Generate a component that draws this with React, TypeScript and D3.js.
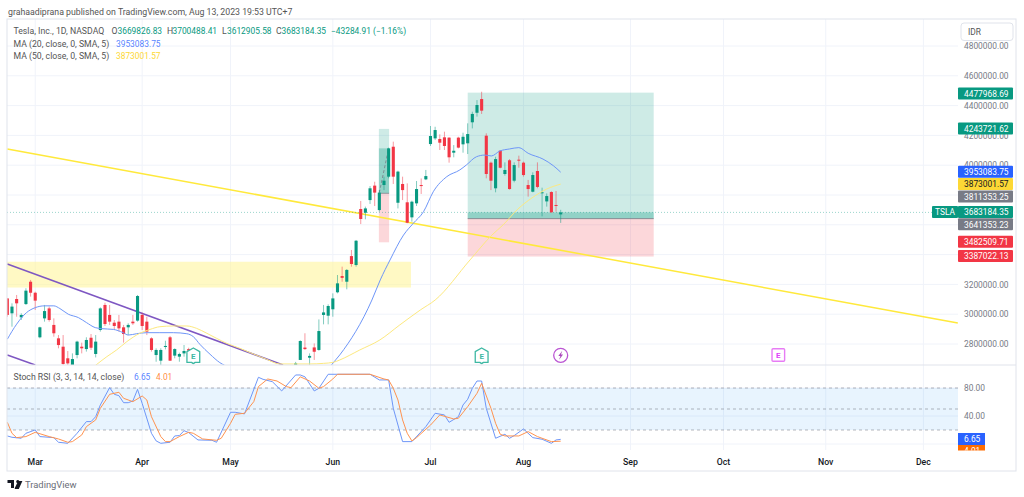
import React from 'react';
import * as d3 from 'd3';

// daily bars, index 0 is Feb 22 2023, bars 40-62 sit below the visible pane
const opens = [3106000,3006000,3102000,2979000,3068000,3218000,3144000,2845000,2972000,3039000,2928000,2838000,2782000,2704000,2659000,2726000,2782000,2766000,2842000,2733000,2894000,3062000,2995000,2943000,2950000,2912000,2912000,2950000,2957000,2995000,2950000,2838000,2726000,2688000,2780000,2845000,2722000,2715000,2737000,2766000,
  2640000,2600000,2520000,2560000,2500000,2470000,2510000,2480000,2450000,2420000,2480000,2440000,2400000,2450000,2420000,2380000,2410000,2450000,2430000,2470000,2500000,2560000,2630000,
  2693000,2776000,2708000,2777000,2760000,2995000,2990000,3033000,3147000,3256000,3218000,3390000,3330000,3706000,3681000,3766000,3863000,3699000,3867000,3923000,4124000,3748000,3874000,3751000,3650000,3744000,3867000,3905000,4142000,4180000,4176000,4187000,4185000,4084000,4185000,4140000,4147000,4288000,4352000,4444000,4198000,4017000,3845000,4097000,3941000,4033000,3896000,4037000,4017000,3867000,3822000,3961000,3813000,3757000,3820000,3733000,3669826];
const closes = [2995000,3051000,3073000,2995000,3158000,3144000,3091000,2912000,3021000,2961000,2872000,2793000,2666000,2670000,2699000,2816000,2771000,2827000,2775000,2816000,3039000,2934000,2950000,2921000,2905000,2867000,2928000,2939000,3122000,2921000,2883000,2760000,2760000,2760000,2787000,2688000,2766000,2733000,2753000,2755000,
  2600000,2520000,2560000,2500000,2470000,2510000,2480000,2450000,2420000,2480000,2440000,2400000,2450000,2420000,2380000,2410000,2450000,2430000,2470000,2500000,2560000,2630000,2670000,
  2820000,2766000,2720000,2748000,2887000,3012000,3055000,3106000,3207000,3244000,3297000,3337000,3493000,3639000,3710000,3845000,3816000,3816000,3896000,4113000,3923000,3957000,3833000,3614000,3755000,3840000,3860000,3927000,4196000,4236000,4151000,4129000,4053000,4097000,4118000,4191000,4209000,4344000,4404000,4366000,3941000,3896000,4041000,3983000,3968000,3840000,4001000,4033000,3934000,3840000,3934000,3854000,3818000,3793000,3684000,3728000,3683184];
const highs = [3106000,3073000,3129000,3006000,3174000,3230000,3151000,2916000,3062000,3051000,2972000,2860000,2860000,2753000,2737000,2822000,2809000,2845000,2867000,2860000,3046000,3077000,3062000,2961000,2995000,2928000,2939000,2995000,3129000,3010000,2983000,2845000,2771000,2771000,2822000,2854000,2771000,2742000,2793000,2775000,
  2650000,2610000,2570000,2570000,2510000,2520000,2520000,2490000,2490000,2490000,2490000,2450000,2460000,2460000,2430000,2420000,2460000,2460000,2480000,2510000,2570000,2640000,2680000,
  2825000,2872000,2737000,2804000,2965000,3062000,3066000,3140000,3263000,3319000,3303000,3431000,3498000,3760000,3722000,3860000,3889000,3833000,3923000,4118000,4158000,3963000,3923000,3878000,3762000,3894000,3911000,3968000,4263000,4258000,4207000,4225000,4187000,4135000,4191000,4218000,4281000,4359000,4437000,4493000,4214000,4024000,4057000,4102000,4019000,4041000,4019000,4064000,4024000,3901000,3952000,4019000,3849000,3811000,3825000,3827000,3700488];
const lows = [2983000,2916000,2983000,2961000,3062000,3118000,3028000,2838000,2950000,2950000,2849000,2771000,2652000,2659000,2652000,2704000,2737000,2749000,2760000,2710000,2883000,2921000,2928000,2894000,2883000,2809000,2860000,2928000,2950000,2894000,2860000,2749000,2681000,2659000,2764000,2688000,2704000,2681000,2715000,2740000,
  2590000,2510000,2510000,2490000,2460000,2460000,2470000,2440000,2410000,2410000,2430000,2390000,2390000,2410000,2370000,2370000,2400000,2420000,2420000,2460000,2490000,2550000,2620000,
  2693000,2760000,2659000,2693000,2755000,2932000,2932000,2983000,3140000,3218000,3167000,3319000,3319000,3605000,3637000,3740000,3726000,3688000,3833000,3912000,3874000,3710000,3766000,3610000,3621000,3726000,3807000,3900000,4129000,4169000,4102000,4102000,4017000,4053000,4113000,4084000,4075000,4247000,4326000,4344000,3912000,3833000,3818000,3979000,3930000,3836000,3885000,3983000,3923000,3789000,3818000,3845000,3657000,3722000,3681000,3688000,3612905];

// [bar, price] readings of the two moving averages
const ma20 = [[0,2832000],[2,2933000],[4.1,3010000],[6,3044000],[8,3056000],[10,3056000],[11.3,3038000],[13.1,3000000],[15.3,2977000],[17,2944000],[18.9,2910000],[20.3,2903000],[22.8,2898000],[24.9,2876000],[26,2860000],[27.8,2869000],[30,2876000],[32.8,2876000],[35.7,2876000],[38.6,2869000],[40,2849000],[41.4,2798000],[43.6,2731000],[45.7,2675000],[46.8,2655000],[55,2450000],[65,2400000],[69.7,2659000],[71.5,2727000],[78.4,3095000],[80.2,3230000],[82.3,3364000],[85.2,3531000],[87.3,3610000],[89.5,3688000],[91.6,3822000],[94.5,3923000],[97.3,3968000],[98.7,4001000],[100.9,4057000],[102.7,4068000],[104.1,4062000],[105.9,4095000],[108,4109000],[110,4118000],[112,4080000],[115.2,4041000],[117.4,3997000],[119,3953083]];
const ma50 = [[18.9,2655000],[21.4,2715000],[23.5,2760000],[25.7,2816000],[28.5,2872000],[30.7,2898000],[32.8,2916000],[35.7,2921000],[38.6,2921000],[40.7,2905000],[42.9,2872000],[45,2838000],[47.2,2804000],[50,2771000],[52.9,2733000],[55.8,2697000],[58.6,2666000],[61.5,2666000],[65.1,2666000],[68,2670000],[70.1,2677000],[71.5,2693000],[75.8,2760000],[80.1,2827000],[84.4,2928000],[88.8,3028000],[92,3095000],[99.5,3364000],[104.2,3531000],[106.6,3599000],[109.8,3706000],[112.8,3780000],[116,3840000],[119,3873001]];

// [bar, value] readings of Stoch RSI
const stochK = [[0,11.5],[1,9.6],[3,8.2],[4,15.3],[6,20.1],[7,10.6],[10,9.1],[11,2.5],[13,1],[15,15.3],[17,32],[18,32],[19,39],[20,55.8],[22,80.5],[23,71],[24,69],[25,59],[26,59],[27,61.5],[28,78],[29,58],[31,15.3],[32,4.4],[33,1],[35,2.5],[36,11.5],[37,12],[38,19],[39,16.3],[41,5.8],[44,5.3],[45,2.5],[48,45.3],[49,45.3],[51,43],[54,95.3],[55,92.4],[57,89],[59,75.8],[62,98.6],[63,98.6],[64,96],[66,75.8],[67,79.6],[69,99.6],[78,99.6],[80,91.5],[82,91.5],[83,51],[85,3.4],[87,3.4],[90,24.8],[92,43.9],[94,41.5],[95,31],[97,39],[98,55.8],[99,63.9],[100,79.6],[101,90],[102,90],[103,51],[105,8.2],[107,13.9],[108,8.2],[109,12],[111,21.5],[113,9.1],[115,6.8],[117,1],[118,5.8],[119,6.65]];
const stochD = [[0,31],[1,15.3],[2,9.1],[4,10.6],[6,16.7],[9,10.6],[11,7.2],[13,2.5],[14,3.4],[16,12.9],[17,24.8],[19,34.4],[20,51],[22,71],[24,73.9],[25,65.3],[27,60.5],[29,68.6],[30,62.9],[31,39],[33,10.6],[34,3.4],[35,3.4],[37,10.6],[39,16.7],[40,15.3],[42,7.2],[45,5.3],[46,8.2],[48,29.6],[49,42.4],[51,43.9],[53,60.5],[54,82],[56,92.9],[58,90],[60,82],[61,80.5],[63,96],[65,90],[67,79.6],[68,82],[70,92.9],[71,99.6],[78,99.6],[81,92.9],[82,91.5],[83,79.6],[84,62.9],[85,34.4],[86,15.3],[87,4.4],[88,9.1],[91,27],[93,41.5],[96,35.8],[97,36.7],[99,53.4],[101,72.4],[102,86.7],[104,51],[105,29.6],[106,13.9],[107,11.5],[110,11.5],[112,17.7],[114,10.6],[117,3.4],[119,4.01]];

const priceTicks = [2800000,3000000,3200000,3400000,3600000,3800000,4000000,4200000,4400000,4600000,4800000];
const stochTicks = [40,80];
const stochGrid = [0,40,80];
const stochLevels = [20,50,80];
const monthBars = [6,29,48,70,91,111,134,154,176,197];
const monthNames = ['Mar','Apr','May','Jun','Jul','Aug','Sep','Oct','Nov','Dec'];

// value, background, text colour of the tags on the price axis
const priceTags: [number, string, string][] = [
  [4477968.69,'#089981','#fff'],
  [4243721.62,'#089981','#fff'],
  [3953083.75,'#2962FF','#fff'],
  [3873001.57,'#FDD835','#131722'],
  [3811353.25,'#787B86','#fff'],
  [3683184.35,'#089981','#fff'],
  [3641353.23,'#787B86','#fff'],
  [3482509.71,'#F23645','#fff'],
  [3387022.13,'#F23645','#fff'],
];

const GREEN = '#089981';
const RED = '#F23645';
const GRID = '#F0F3FA';
const BORDER = '#E0E3EB';
const TEXT = '#787B86';
const FONT = 'Roboto, sans-serif';
const NUM = 8.4;

const left = 7;
const right = 1016;
const axisX = 958;
const top = 19;
const paneBottom = 365;
const stochBottom = 450;
const bottom = 471;

const x = d3.scaleLinear().domain([0, 197]).range([7.33, 923.4]);
const y = d3.scaleLinear().domain([2800000, 4800000]).range([344, 46]);
const ys = d3.scaleLinear().domain([0, 100]).range([444, 374]);

const fmt = d3.format('.2f');

const maLine = d3.line<number[]>().x(d => x(d[0])).y(d => y(d[1])).curve(d3.curveMonotoneX);
const stochLine = d3.line<number[]>().x(d => x(d[0])).y(d => ys(d[1]));

// same collision handling as the axis tags: push down when they would overlap
const stackTags = () => {
  let last = -Infinity;
  return priceTags.map(([value, bg, fg]) => {
    const ty = Math.max(y(value) - 0.5, last + 12.4);
    last = ty;
    return { value, bg, fg, ty };
  });
};

function EarningsHouse({ bar }: { bar: number }) {
  const cx = x(bar);
  const color = '#3DB8A3';
  const d = `M${cx},348 L${cx + 6.4},351.6 V362.4 H${cx + 1.8} L${cx},363.6 L${cx - 1.8},362.4 H${cx - 6.4} V351.6 Z`;
  return (
    <g>
      <path d={d} fill="#fff" stroke={color} strokeWidth={1.3} strokeLinejoin="round" />
      <text x={cx} y={359.2} textAnchor="middle" fontSize={8} fontWeight={700} fill={color} fontFamily={FONT}>E</text>
    </g>
  );
}

export default function App() {
  const tags = stackTags();
  const hw = 1.55;
  const bolt = x(119);
  const future = x(165.8);
  return (
    <svg width={1024} height={497} style={{ position: 'absolute', left: 0, top: 0, background: '#fff' }} fontFamily={FONT}>
      <defs>
        <clipPath id="main"><rect x={left} y={top} width={axisX - left} height={paneBottom - top} /></clipPath>
        <clipPath id="stoch"><rect x={left} y={paneBottom} width={right - left} height={stochBottom - paneBottom + 0.5} /></clipPath>
      </defs>

      <text x={8} y={14.5} fontSize={8.75} fill="#555">grahaadiprana published on TradingView.com, Aug 13, 2023 19:53 UTC+7</text>

      {/* grid */}
      {priceTicks.map(t => <line key={t} x1={left} x2={axisX} y1={y(t)} y2={y(t)} stroke={GRID} />)}
      {stochGrid.map(t => <line key={t} x1={left} x2={axisX} y1={ys(t)} y2={ys(t)} stroke={GRID} />)}
      {monthBars.map(b => <line key={b} x1={x(b)} x2={x(b)} y1={top} y2={stochBottom} stroke={GRID} />)}

      <g clipPath="url(#main)">
        {/* zones and positions */}
        <rect x={left} width={x(86.8) - left} y={y(3352000)} height={y(3179000) - y(3352000)} fill="#FFF59D" fillOpacity={0.6} />

        <rect x={x(79.9)} width={x(82.1) - x(79.9)} y={y(4243721.62)} height={y(3811353.25) - y(4243721.62)} fill={GREEN} fillOpacity={0.2} />
        <rect x={x(79.9)} width={x(82.1) - x(79.9)} y={y(4113000)} height={y(3811353.25) - y(4113000)} fill={GREEN} fillOpacity={0.3} />
        <rect x={x(79.9)} width={x(82.1) - x(79.9)} y={y(3811353.25)} height={y(3482509.71) - y(3811353.25)} fill={RED} fillOpacity={0.2} />
        <line x1={x(79.9)} x2={x(82.1)} y1={y(3811353.25)} y2={y(3811353.25)} stroke={TEXT} strokeOpacity={0.7} />
        <line x1={x(80)} x2={x(82)} y1={y(3816000)} y2={y(4113000)} stroke={TEXT} strokeDasharray="3 2" strokeOpacity={0.8} />

        <rect x={x(99)} width={x(139) - x(99)} y={y(4487000)} height={y(3641353.23) - y(4487000)} fill={GREEN} fillOpacity={0.2} />
        <rect x={x(99)} width={x(139) - x(99)} y={y(3683184.35)} height={y(3641353.23) - y(3683184.35)} fill={GREEN} fillOpacity={0.3} />
        <rect x={x(99)} width={x(139) - x(99)} y={y(3641353.23)} height={y(3387022.13) - y(3641353.23)} fill={RED} fillOpacity={0.2} />
        <line x1={x(99)} x2={x(139)} y1={y(3641353.23)} y2={y(3641353.23)} stroke={TEXT} strokeOpacity={0.8} />

        {/* trend lines */}
        <line x1={x(0)} y1={y(4109000)} x2={x(204.4)} y2={y(2941000)} stroke="#FFE93B" strokeWidth={1.5} />
        <line x1={x(0)} y1={y(3337000)} x2={x(59.3)} y2={y(2659000)} stroke="#7E57C2" strokeWidth={1.5} />
        <line x1={x(0)} y1={y(2726000)} x2={x(6)} y2={y(2659000)} stroke="#7E57C2" strokeWidth={1.5} />

        <line x1={left} x2={932} y1={y(3683184.35)} y2={y(3683184.35)} stroke={GREEN} strokeOpacity={0.4} strokeDasharray="1 2" />

        {/* candles */}
        {opens.map((o, i) => {
          const c = closes[i];
          const col = c >= o ? GREEN : RED;
          const by = Math.min(y(o), y(c));
          return (
            <g key={i}>
              <line x1={x(i)} x2={x(i)} y1={y(highs[i])} y2={y(lows[i])} stroke={col} strokeOpacity={0.5} />
              <rect x={x(i) - hw} width={hw * 2} y={by} height={Math.max(Math.abs(y(o) - y(c)), 1)} fill={col} />
            </g>
          );
        })}

        <path d={maLine(ma20) ?? ''} fill="none" stroke="#6E96F8" strokeWidth={1} />
        <path d={maLine(ma50) ?? ''} fill="none" stroke="#FDE97F" strokeWidth={1} />

        <EarningsHouse bar={40} />
        <EarningsHouse bar={102} />

        <rect x={future - 6.3} y={348.7} width={12.6} height={12.6} rx={1} fill="#fff" stroke="#E77CF5" strokeWidth={1.4} />
        <text x={future} y={358.2} textAnchor="middle" fontSize={8} fontWeight={700} fill="#E040FB">E</text>

        <circle cx={bolt} cy={355.3} r={7} fill="#fff" stroke="#BA55D3" strokeWidth={1.3} />
        <path d={`M${bolt + 1.6},350.8 L${bolt - 2.4},356 L${bolt - 0.3},356 L${bolt - 1.6},359.8 L${bolt + 2.4},354.6 L${bolt + 0.3},354.6 Z`} fill="#AB47BC" />
      </g>

      {/* stoch rsi pane */}
      <rect x={left} width={axisX - left} y={ys(80)} height={ys(20) - ys(80)} fill="#2196F3" fillOpacity={0.1} />
      {stochLevels.map(l => <line key={l} x1={left} x2={axisX} y1={ys(l)} y2={ys(l)} stroke={TEXT} strokeOpacity={0.55} strokeDasharray="3 3" />)}
      <path d={stochLine(stochK) ?? ''} fill="none" stroke="#6E96F8" strokeWidth={1} />
      <path d={stochLine(stochD) ?? ''} fill="none" stroke="#FF9350" strokeWidth={1} />

      {/* frame */}
      <rect x={left} y={top} width={right - left} height={bottom - top} fill="none" stroke={BORDER} />
      <line x1={left} x2={right} y1={paneBottom} y2={paneBottom} stroke={BORDER} />

      {/* legends */}
      <g fontSize={8.7} fill="#555">
        <text x={13.5} y={34}>Tesla, Inc., 1D, NASDAQ</text>
        <text x={111.5} y={34}>O</text>
        <text x={167} y={34}>H</text>
        <text x={222} y={34}>L</text>
        <text x={276} y={34}>C</text>
        <text x={13.5} y={46.5}>MA (20, close, 0, SMA, 5)</text>
        <text x={13.5} y={58.5}>MA (50, close, 0, SMA, 5)</text>
        <text x={13.5} y={380}>Stoch RSI (3, 3, 14, 14, close)</text>
      </g>
      <g fontSize={NUM}>
        <text x={117.5} y={34} fill={GREEN}>3669826.83</text>
        <text x={172.5} y={34} fill={GREEN}>3700488.41</text>
        <text x={227} y={34} fill={GREEN}>3612905.58</text>
        <text x={281.5} y={34} fill={GREEN}>3683184.35</text>
        <text x={331} y={34} fill={GREEN}>−43284.91 (−1.16%)</text>
        <text x={116} y={46.5} fill="#2962FF" fillOpacity={0.8}>3953083.75</text>
        <text x={116} y={58.5} fill="#FDD835">3873001.57</text>
        <text x={134} y={380} fill="#2962FF" fillOpacity={0.8}>6.65</text>
        <text x={156} y={380} fill="#FF6D00" fillOpacity={0.8}>4.01</text>
      </g>

      {/* price axis */}
      <rect x={961} y={23} width={52} height={17.5} rx={3} fill="#fff" stroke={BORDER} />
      <text x={968} y={35} fontSize={NUM} fill="#555">IDR</text>
      <g fontSize={NUM} fill={TEXT}>
        {priceTicks.map(t => <text key={t} x={964} y={y(t) + 3.2}>{fmt(t)}</text>)}
        {stochTicks.map(t => <text key={t} x={964} y={ys(t) + 3.2}>{fmt(t)}</text>)}
      </g>
      {tags.map(t => (
        <g key={t.value}>
          <rect x={958} y={t.ty - 6} width={55} height={12} rx={1} fill={t.bg} />
          <text x={964} y={t.ty + 3.2} fontSize={NUM} fill={t.fg}>{fmt(t.value)}</text>
        </g>
      ))}
      <rect x={932} y={y(3683184.35) - 6.5} width={26} height={12} rx={1} fill={GREEN} />
      <text x={945} y={y(3683184.35) + 2.7} fontSize={NUM} fill="#fff" textAnchor="middle">TSLA</text>

      <g clipPath="url(#stoch)">
        <rect x={958} y={433} width={27} height={12} fill="#2962FF" />
        <text x={964} y={442.2} fontSize={NUM} fill="#fff">6.65</text>
        <rect x={958} y={445} width={27} height={12} fill="#FF6D00" />
        <text x={964} y={454.2} fontSize={NUM} fill="#fff">4.01</text>
      </g>

      {/* time axis */}
      {monthBars.map((b, i) => (
        <text key={b} x={x(b)} y={464.5} fontSize={8.7} fontWeight={500} fill="#131722" textAnchor="middle">{monthNames[i]}</text>
      ))}

      {/* logo */}
      <path d="M7.5,480 h6.5 v8 h-3 v-5 h-3.5 Z M17.8,480 a1.6,1.6 0 1 1 -0.01,0 Z M14.8,488 l3.4,-7 h4.2 l-3.6,8 h-4 Z" fill="#131722" />
      <text x={25} y={488} fontSize={9.4} fill="#6A6D78">TradingView</text>
    </svg>
  );
}
